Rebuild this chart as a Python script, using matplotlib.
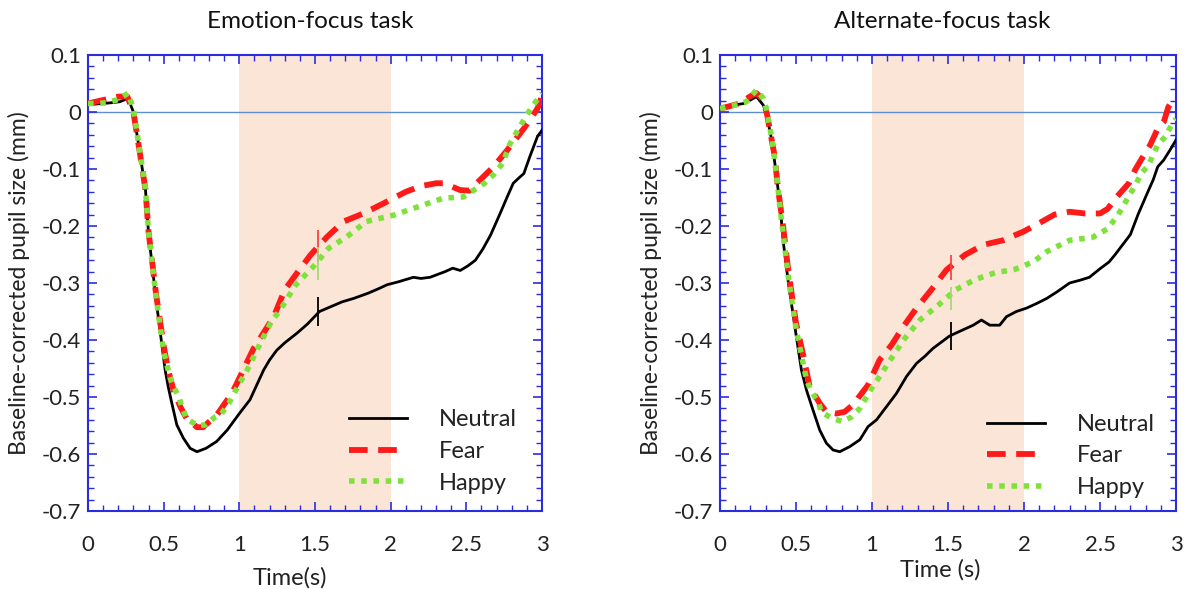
import matplotlib
matplotlib.use("Agg")
import matplotlib.pyplot as plt
from matplotlib.ticker import MultipleLocator, FixedLocator

plt.rcParams['font.family'] = ['Lato', 'DejaVu Sans']

# ---------------- data: Emotion-focus task ----------------
e_neu_t = [0, 0.05, 0.1, 0.145, 0.21, 0.265, 0.30, 0.34, 0.38, 0.40, 0.45, 0.51, 0.53, 0.554, 0.587,
           0.63, 0.675, 0.72, 0.78, 0.85, 0.92, 1.0, 1.07, 1.16, 1.2, 1.247, 1.3, 1.381, 1.45, 1.53,
           1.6, 1.68, 1.756, 1.85, 1.92, 1.977, 2.05, 2.15, 2.2, 2.26, 2.31, 2.36, 2.41, 2.46, 2.51,
           2.56, 2.61, 2.66, 2.72, 2.77, 2.81, 2.85, 2.88, 2.92, 2.97, 3.0]
e_neu_v = [0.013, 0.014, 0.015, 0.016, 0.018, 0.024, 0.0, -0.067, -0.137, -0.213, -0.33, -0.453,
           -0.482, -0.511, -0.549, -0.572, -0.59, -0.596, -0.59, -0.578, -0.558, -0.529, -0.505,
           -0.453, -0.435, -0.418, -0.405, -0.388, -0.372, -0.35, -0.342, -0.333, -0.327, -0.318,
           -0.31, -0.303, -0.298, -0.29, -0.292, -0.29, -0.285, -0.28, -0.274, -0.278, -0.27,
           -0.26, -0.24, -0.216, -0.18, -0.149, -0.125, -0.115, -0.108, -0.078, -0.043, -0.032]

e_fear_t = [0, 0.05, 0.1, 0.15, 0.2, 0.26, 0.30, 0.34, 0.38, 0.40, 0.45, 0.50, 0.53, 0.565, 0.61,
            0.65, 0.72, 0.76, 0.85, 0.905, 0.95, 1.0, 1.094, 1.226, 1.30, 1.38, 1.47, 1.58, 1.69,
            1.82, 1.955, 2.1, 2.2, 2.3, 2.35, 2.46, 2.52, 2.58, 2.68, 2.77, 2.88, 2.97, 3.0]
e_fear_v = [0.015, 0.018, 0.021, 0.024, 0.027, 0.027, 0.0, -0.067, -0.137, -0.21, -0.32, -0.41,
            -0.453, -0.488, -0.517, -0.537, -0.553, -0.553, -0.532, -0.511, -0.494, -0.467, -0.415,
            -0.36, -0.312, -0.283, -0.251, -0.219, -0.192, -0.178, -0.16, -0.14, -0.13, -0.125,
            -0.125, -0.137, -0.138, -0.122, -0.096, -0.067, -0.029, 0.006, 0.028]

e_hap_t = [0, 0.06, 0.12, 0.2, 0.265, 0.30, 0.34, 0.38, 0.40, 0.45, 0.50, 0.54, 0.565, 0.6, 0.62,
           0.65, 0.72, 0.775, 0.84, 0.88, 0.93, 0.96, 1.0, 1.04, 1.138, 1.205, 1.29, 1.37, 1.49,
           1.59, 1.71, 1.84, 2.02, 2.15, 2.35, 2.48, 2.55, 2.62, 2.68, 2.74, 2.79, 2.86, 2.9, 2.95,
           3.0]
e_hap_v = [0.015, 0.015, 0.016, 0.022, 0.033, 0.005, -0.065, -0.135, -0.21, -0.325, -0.42, -0.464,
           -0.482, -0.5, -0.517, -0.537, -0.55, -0.549, -0.535, -0.53, -0.511, -0.497, -0.476,
           -0.459, -0.406, -0.371, -0.339, -0.304, -0.271, -0.239, -0.219, -0.192, -0.181, -0.169,
           -0.151, -0.149, -0.137, -0.125, -0.11, -0.09, -0.055, -0.023, -0.005, 0.015, 0.033]

# ---------------- data: Alternate-focus task ----------------
a_neu_t = [0, 0.087, 0.16, 0.2, 0.24, 0.285, 0.305, 0.34, 0.37, 0.40, 0.415, 0.45, 0.5, 0.536,
           0.569, 0.612, 0.656, 0.70, 0.744, 0.788, 0.854, 0.92, 0.974, 1.03, 1.095, 1.16, 1.227,
           1.293, 1.35, 1.40, 1.45, 1.51, 1.6, 1.666, 1.72, 1.775, 1.84, 1.885, 1.95, 2.017, 2.083,
           2.15, 2.22, 2.3, 2.37, 2.43, 2.5, 2.56, 2.6, 2.7, 2.75, 2.81, 2.85, 2.88, 2.92, 2.96,
           3.0]
a_neu_v = [0.006, 0.012, 0.015, 0.021, 0.027, 0.012, -0.002, -0.049, -0.108, -0.178, -0.225,
           -0.3, -0.39, -0.453, -0.488, -0.523, -0.558, -0.581, -0.593, -0.596, -0.587, -0.575,
           -0.552, -0.54, -0.517, -0.494, -0.464, -0.441, -0.428, -0.415, -0.405, -0.393, -0.382,
           -0.374, -0.365, -0.374, -0.374, -0.359, -0.35, -0.344, -0.336, -0.327, -0.315, -0.3,
           -0.295, -0.29, -0.275, -0.263, -0.25, -0.215, -0.18, -0.143, -0.119, -0.096, -0.084,
           -0.067, -0.049]

a_fear_t = [0, 0.06, 0.13, 0.196, 0.24, 0.285, 0.31, 0.36, 0.38, 0.415, 0.45, 0.5, 0.55, 0.59,
            0.656, 0.70, 0.766, 0.82, 0.887, 0.908, 0.974, 1.05, 1.128, 1.205, 1.293, 1.39, 1.49,
            1.61, 1.733, 1.863, 1.995, 2.1, 2.2, 2.3, 2.4, 2.5, 2.55, 2.61, 2.69, 2.73, 2.77,
            2.83, 2.88, 2.92, 2.95, 2.98, 3.0]
a_fear_v = [0.006, 0.01, 0.015, 0.027, 0.033, 0.021, -0.005, -0.078, -0.131, -0.2, -0.28, -0.37,
            -0.43, -0.482, -0.511, -0.526, -0.529, -0.526, -0.511, -0.502, -0.479, -0.435, -0.409,
            -0.377, -0.344, -0.312, -0.277, -0.251, -0.233, -0.225, -0.21, -0.195, -0.18, -0.175,
            -0.178, -0.178, -0.17, -0.149, -0.125, -0.102, -0.084, -0.058, -0.029, -0.017, 0.009,
            0.021, 0.025]

a_hap_t = [0, 0.097, 0.174, 0.24, 0.285, 0.305, 0.34, 0.37, 0.40, 0.45, 0.5, 0.569, 0.60, 0.645,
           0.667, 0.733, 0.806, 0.865, 0.92, 0.997, 1.05, 1.128, 1.216, 1.315, 1.436, 1.55, 1.677,
           1.81, 1.94, 2.06, 2.15, 2.3, 2.45, 2.55, 2.62, 2.70, 2.74, 2.77, 2.82, 2.85, 2.88, 2.93,
           2.97, 3.0]
a_hap_v = [0.006, 0.012, 0.018, 0.039, 0.024, 0.006, -0.045, -0.105, -0.18, -0.29, -0.38, -0.47,
           -0.49, -0.508, -0.526, -0.537, -0.543, -0.535, -0.52, -0.485, -0.464, -0.432, -0.397,
           -0.365, -0.339, -0.312, -0.294, -0.282, -0.276, -0.263, -0.245, -0.225, -0.22, -0.205,
           -0.18, -0.143, -0.125, -0.108, -0.093, -0.075, -0.058, -0.043, -0.023, -0.012]

# error bars at t = 1.5 s  (centre, half-length)
err_t = 1.52
e_err_c = [-0.35, -0.235, -0.265]
e_err_h = [0.025, 0.028, 0.029]
a_err_c = [-0.393, -0.273, -0.327]
a_err_h = [0.025, 0.022, 0.02]

labels = ['Neutral', 'Fear', 'Happy']
titles = ['Emotion-focus task', 'Alternate-focus task']
xlabels = ['Time(s)', 'Time (s)']
ylabel = 'Baseline-corrected pupil size (mm)'
xticks = [0, 0.5, 1, 1.5, 2, 2.5, 3]
xticklabels = ['0', '0.5', '1', '1.5', '2', '2.5', '3']
yticks = [0.1, 0, -0.1, -0.2, -0.3, -0.4, -0.5, -0.6, -0.7]
yticklabels = ['0.1', '0', '-0.1', '-0.2', '-0.3', '-0.4', '-0.5', '-0.6', '-0.7']
shade = (1, 2)

# ---------------- styling ----------------
C_NEU = 'black'
C_FEAR = '#ff1a1a'
C_HAP = '#7fe23c'
C_ERR = ['black', '#ff4040', '#a6d77a']
SPINE = '#2b2be0'
TXT = '#222222'

fig = plt.figure(figsize=(11.97, 5.89), dpi=100)
W, H = 1197, 589
axes_px = [(88, 542), (720, 1176)]
top_px, bot_px = 55, 511

panels = [
    ((e_neu_t, e_neu_v), (e_fear_t, e_fear_v), (e_hap_t, e_hap_v), e_err_c, e_err_h),
    ((a_neu_t, a_neu_v), (a_fear_t, a_fear_v), (a_hap_t, a_hap_v), a_err_c, a_err_h),
]
legend_anchor = [(0.575, 0.223), (0.5855, 0.213)]
title_x = [310, 942]
xlabel_pos = [(290, 578), (940, 570)]
ylabel_x = [30, 662]

for i, (l, r) in enumerate(axes_px):
    ax = fig.add_axes([l / W, (H - bot_px) / H, (r - l) / W, (bot_px - top_px) / H])
    (nt, nv), (ft, fv), (ht, hv), ec, eh = panels[i]
    ax.axvspan(shade[0], shade[1], color='#fbe5d6', lw=0, zorder=0)
    ax.axhline(0, color='#5b8fd0', lw=1.0, zorder=1)
    ax.plot(nt, nv, color=C_NEU, lw=2.0, label=labels[0], zorder=3)
    ax.plot(ft, fv, color=C_FEAR, lw=4.2, dashes=(3.2, 1.8), label=labels[1], zorder=4)
    ax.plot(ht, hv, color=C_HAP, lw=4.0, dashes=(1.0, 1.2), label=labels[2], zorder=5)
    for k in range(3):
        ax.vlines(err_t, ec[k] - eh[k], ec[k] + eh[k], color=C_ERR[k], lw=1.3, zorder=6)

    ax.set_xlim(0, 3)
    ax.set_ylim(-0.7, 0.1)
    ax.xaxis.set_major_locator(FixedLocator(xticks))
    ax.set_xticklabels(xticklabels)
    ax.yaxis.set_major_locator(FixedLocator(yticks))
    ax.set_yticklabels(yticklabels)
    ax.xaxis.set_minor_locator(MultipleLocator(0.1))
    ax.yaxis.set_minor_locator(MultipleLocator(0.02))
    ax.tick_params(which='both', direction='in', top=True, right=True, color=SPINE,
                   labelsize=16, labelcolor=TXT)
    ax.tick_params(which='major', length=6.5, width=1.2)
    ax.tick_params(which='minor', length=4, width=1.0)
    ax.tick_params(axis='x', which='major', pad=17)
    ax.tick_params(axis='y', which='major', pad=5)
    for s in ax.spines.values():
        s.set_color(SPINE)
        s.set_linewidth(1.5)

    ax.set_ylabel(ylabel, fontsize=16.5, color=TXT)
    ax.yaxis.set_label_coords((ylabel_x[i] - l) / (r - l), 0.5)
    fig.text(xlabel_pos[i][0] / W, 1 - xlabel_pos[i][1] / H, xlabels[i], ha='center',
             va='center', fontsize=17, color=TXT)
    fig.text(title_x[i] / W, 1 - 22 / H, titles[i], ha='center', va='center', fontsize=17.5,
             color='#111111')

    ax.legend(loc='upper left', bbox_to_anchor=legend_anchor[i], frameon=False, fontsize=17,
              handlelength=2.46, handletextpad=1.36, labelspacing=0.45, borderpad=0,
              borderaxespad=0, labelcolor=TXT)

fig.savefig('out.png', dpi=100)
